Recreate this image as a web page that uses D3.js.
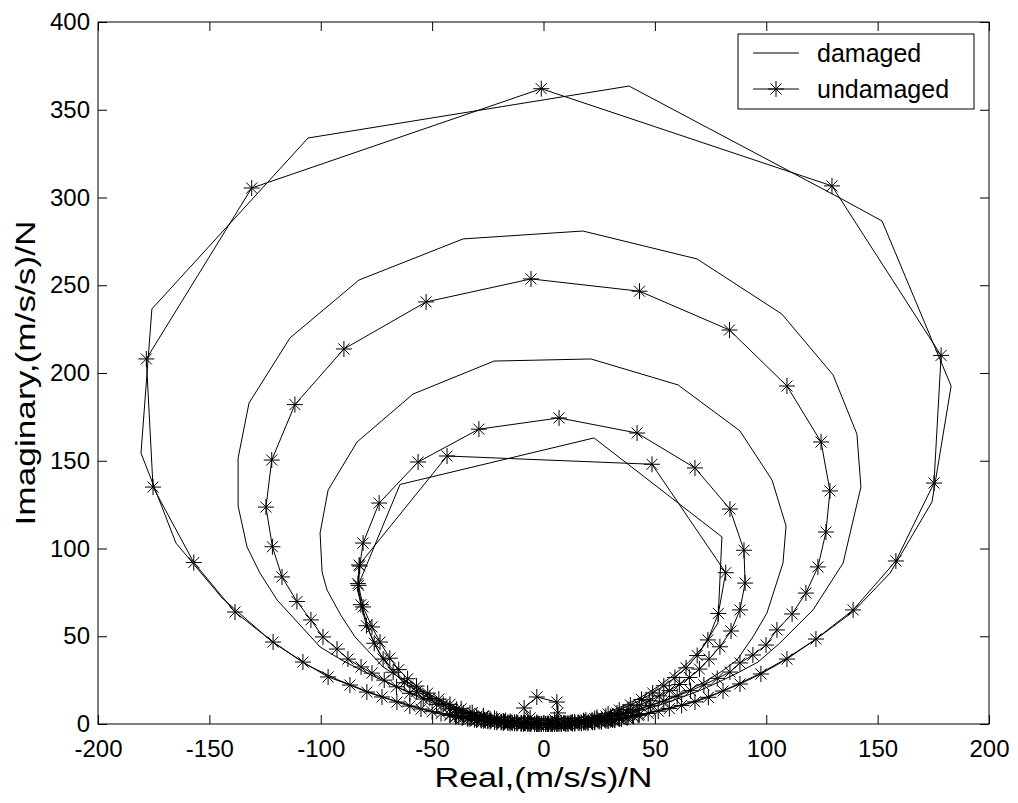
<!DOCTYPE html>
<meta charset="utf-8">
<style>
body { margin: 0; background: #fff; }
text { font-family: "Liberation Sans", Arial, sans-serif; fill: #000; }
.curve { fill: none; stroke: #000; stroke-width: 1; }
.star { fill: none; stroke: #000; stroke-width: 1; }
</style>
<svg width="1018" height="803"></svg>
<script src="https://d3js.org/d3.v7.min.js"></script>
<script>

// tick values
var xTicks = [-200, -150, -100, -50, 0, 50, 100, 150, 200];
var yTicks = [0, 50, 100, 150, 200, 250, 300, 350, 400];

// undamaged FRF, [real, imaginary], one array per mode loop
var uOriginCluster = [[1,0],[-1,0.05],[-4,0.2],[-7,0.35],[-10,0.5],[-13,0.7],[-16,0.9],[-19,1.2],[-22,1.5],[-25,1.9],[-28,2.3],[-31,2.7],[-34,3.1],
  [-31,2.5],[-28,2],[-25,1.6],[-22,1.2],[-19,0.9],[-16,0.6],[-13,0.4],[-10,0.25],[-7,0.1],[-4,0.05],[-1,0],
  [2,0],[5,0.1],[8,0.2],[11,0.35],[14,0.5],[17,0.7],[20,0.95],[23,1.25],[26,1.6],[29,2],[32,2.4],[35,2.9],
  [32,2.2],[29,1.7],[26,1.3],[23,1],[20,0.7],[17,0.45],[14,0.3],[11,0.15],[8,0.05],[5,0],[2,0],
  [-2.5,0.1],[-5.5,0.25],[-8.5,0.45],[-11.5,0.65],[-14.5,0.9],[-17.5,1.15],[-20.5,1.5],[-23.5,1.9],[-26.5,2.4],
  [-29.5,2.9],[-32.5,3.4],[-36,4],[-39,4.6],[-42,5.3],[-39.5,4.2],[-36.5,3.5],[-33,2.9],[-30,2.3],[-27,1.8],
  [-24,1.4],[-21,1],[-18,0.7],[-15,0.45],[-12,0.25],[-9,0.1],[-6,0.05],[-3,0],
  [3.5,0.1],[6.5,0.25],[9.5,0.45],[12.5,0.65],[15.5,0.9],[18.5,1.15],[21.5,1.5],[24.5,1.9],[27.5,2.4],
  [30.5,2.9],[33.5,3.4],[37,4],[40,4.6],[43,5.3],[40.5,4.2],[37.5,3.5],[34,2.9],[31,2.3],[28,1.8],
  [25,1.4],[22,1],[19,0.7],[16,0.45],[13,0.25],[10,0.1],[7,0.05],[4,0]];
var uLoopE = [[0,0.2],[-3,1],[-6,3.5],[-8.7,9.1],[-3,15.4],[6,12.5],[6.5,6.3],[5,2.5],[2,0.4]];
var uLoopD = [[-3,0.1],[-9,0.6],[-15,1.5],[-21,2.7],[-27,4.2],[-33,6.1],[-39,8.4],[-45,11.2],[-51,14.6],[-57,18.6],
  [-62.5,23.5],[-67.5,29.5],[-72,37],[-76,46],[-79.5,56],[-82,68],[-83.3,80],[-82.8,90.6],[-43.3,152.7],[48.7,148],
  [81.8,86.2],[78.5,63],[73.8,47.9],[69,39],[64,32],[59,26.5],[54,21.8],[49,17.7],[44,14],[39,10.8],[34,8],
  [29,5.7],[24,3.8],[19,2.3],[14,1.2],[9,0.5],[4,0.1]];
var uLoopC = [[-2,0.1],[-7,0.5],[-12,1.1],[-17,2],[-22,3.2],[-27,4.7],[-32,6.5],[-37,8.7],[-42,11.2],[-47,14.2],
  [-52,17.6],[-57,21.6],[-61,25.8],[-65,31],[-69,37.5],[-73.4,46.7],[-77,55.3],[-81,66.7],[-83,79],[-82.5,90],
  [-81,103.1],[-73.8,125.9],[-56.3,149.3],[-29,168],[7,174.4],[42,165.8],[68,145.9],[83.7,122.5],[90,99],
  [90.5,80.3],[88.2,65],[84.2,53],[79.2,44],[74.3,37],[70,31.3],[65.5,26.5],[61,22.5],[56.5,19],[52,16],
  [47.5,13.2],[43,10.7],[38,8.3],[33,6.3],[28,4.6],[23,3.1],[18,1.9],[13,1],[8,0.4],[3,0.1]];
var uLoopB = [[-3,0.1],[-8,0.4],[-13,0.9],[-18,1.7],[-24,2.9],[-30,4.4],[-36,6.3],[-42,8.6],[-48,11.2],[-54,14.2],
  [-60,17.5],[-66,21.2],[-71.5,25],[-77,29],[-81.9,32.5],[-87.8,37],[-92.7,42.7],[-99,49.6],[-104.4,59.3],
  [-110.7,69.8],[-117.4,83.8],[-121.7,101],[-124.6,123.6],[-122,150.4],[-111.6,182],[-89.6,213.7],[-52.7,240.5],
  [-5.6,253.6],[43.1,246.6],[83.5,224.5],[109.3,192.6],[124.6,160.7],[128.6,132.8],[126.8,109.4],[123.2,89.5],
  [117.8,74.6],[111.6,62.7],[104.8,53.6],[99.9,45],[94,39.3],[88.2,34.8],[83.7,29.6],[78,26],[72,22.3],[66,19],
  [60,15.8],[54,13],[48,10.4],[42,8.1],[36,6.1],[30,4.3],[24,2.8],[18,1.6],[12,0.8],[6,0.25],[1,0]];
var uLoopA = [[-2,0],[-6,0.1],[-10,0.3],[-14,0.55],[-18,0.9],[-22,1.35],[-26,1.9],[-30,2.5],[-34,3.2],[-38,4],
  [-42,4.9],[-46,5.9],[-50,7],[-55,8.5],[-60,10.2],[-65.8,12.5],[-72.5,15.4],[-79.3,18.2],[-86.9,22.2],
  [-96.7,26.8],[-108,35.3],[-121.4,46.7],[-138.5,63.8],[-157,92],[-175.3,135],[-178.3,208],[-131,305.4],
  [-1,362],[129.5,306.6],[178.5,210],[175.3,137.3],[158.2,92.9],[139,65],[122.3,48.4],[109.3,37],[97.6,28.5],
  [88.2,22.8],[80.6,18.8],[74,15.2],[68,12.6],[62,10.6],[56.5,8.8],[51.5,7.3],[47,6],[42.5,4.9],[38,3.9],
  [34,3.1],[30,2.4],[26,1.8],[22,1.3],[18,0.9],[14,0.55],[10,0.3],[6,0.1],[2,0]];

// damaged FRF
var dLoopD = [[-3,0.2],[-10,0.8],[-17,2],[-24,3.6],[-31,5.8],[-38,8.6],[-45,12],[-52,16.2],[-58,20.8],[-64,26.5],
  [-69,33],[-74,41],[-78,52],[-82.4,70.7],[-83.7,77.5],[-64.4,136.5],[22.7,163],[80.1,106.6],[78.3,57.5],
  [71.6,44],[65,35],[58,27.5],[51,21],[44,15.5],[37,11],[30,7.2],[23,4.3],[16,2.1],[9,0.7],[3,0.1]];
var dLoopC = [[-4,0.2],[-10,0.8],[-16,1.8],[-22,3.2],[-28,5],[-34,7.3],[-40,10],[-46,13.3],[-52,17.2],[-58,21.5],
  [-64,26],[-72,32.5],[-84.6,49.6],[-91,62],[-97.2,76.4],[-99.4,86.6],[-100.3,108.8],[-96.7,133.3],[-83.7,160.7],
  [-58.6,188],[-22.2,206.8],[21.3,208],[60.4,193.2],[88.2,167],[102.6,139],[108.9,112.8],[107.5,91.7],
  [100.3,63.2],[94,49.6],[86.9,36.5],[80,30],[73,24.5],[66,19.8],[59,15.8],[52,12.4],[45,9.5],[38,7],
  [31,4.9],[24,3.1],[17,1.7],[10,0.7],[4,0.15]];
var dLoopB = [[-4,0.15],[-10,0.7],[-16,1.6],[-22,2.9],[-28,4.5],[-34,6.4],[-40,8.6],[-46,11.2],[-53,14.5],[-61,18.5],
  [-70,23.5],[-80,29.5],[-90,36],[-100.3,43.9],[-119.6,70.7],[-127.3,86],[-133.1,100.9],[-137.1,124.2],
  [-137.1,151.6],[-132.2,182.9],[-113.8,220],[-82.8,253],[-36.1,276.4],[17.7,280.9],[68.9,265],[107,233.6],
  [130,198.9],[140.7,165.2],[142.5,135],[134.5,91.7],[121,65],[106,46],[96.3,35.3],[87,29],[78,23.5],[70,19],
  [62,15.2],[55,12],[48,9.3],[41,7],[35,5.2],[29,3.6],[23,2.3],[17,1.3],[11,0.6],[5,0.15]];
var dLoopA = [[-2,0.1],[-8,0.4],[-14,0.7],[-20,1.2],[-26,2],[-32,3],[-38,4.2],[-44,5.6],[-50,7.2],[-56,9.2],
  [-62,11.5],[-70,14.5],[-80,19],[-92,25],[-106,33.5],[-122,47],[-144.3,71.8],[-165,103.1],[-180.7,154.4],
  [-175.8,236.5],[-105.7,333.9],[38.4,363.5],[133.1,299.7],[152,286.6],[183,192.6],[174.4,126.5],[155.6,86],
  [139,64],[122,48],[108,36.5],[96,28],[86,22],[78,17.5],[70,14],[63,11.2],[56,9],[50,7.2],[44,5.6],[38,4.2],
  [32,3],[26,2],[20,1.2],[14,0.7],[8,0.3],[2,0.05]];

var legendLabels = ["damaged", "undamaged"];

var undamaged = [].concat(uOriginCluster, uLoopE, uLoopD, uLoopC, uLoopB, uLoopA);
var damaged = [].concat(dLoopD, dLoopC, dLoopB, dLoopA);

var svg = d3.select("svg"),
    mLeft = 98, mRight = 989, mTop = 22, mBottom = 724;

var x = d3.scaleLinear().domain([-200, 200]).range([mLeft, mRight]);
var y = d3.scaleLinear().domain([0, 400]).range([mBottom, mTop]);

svg.append("rect").attr("width", 1018).attr("height", 803).attr("fill", "#fff");

// axes, MATLAB style: ticks inside on all four sides
function styleAxis(g) {
  g.select(".domain").remove();
  g.selectAll("line").attr("stroke", "#000");
  g.attr("font-size", 24).attr("font-family", null);
}

var fmt = d => String(d);

svg.append("g").attr("transform", "translate(0," + mBottom + ")")
    .call(d3.axisBottom(x).tickValues(xTicks).tickFormat(fmt).tickSizeInner(-9).tickSizeOuter(0).tickPadding(16))
    .call(styleAxis);
svg.append("g").attr("transform", "translate(0," + mTop + ")")
    .call(d3.axisTop(x).tickValues(xTicks).tickSizeInner(-9).tickSizeOuter(0).tickFormat(""))
    .call(styleAxis);
svg.append("g").attr("transform", "translate(" + mLeft + ",0)")
    .call(d3.axisLeft(y).tickValues(yTicks).tickFormat(fmt).tickSizeInner(-9).tickSizeOuter(0).tickPadding(8))
    .call(styleAxis);
svg.append("g").attr("transform", "translate(" + mRight + ",0)")
    .call(d3.axisRight(y).tickValues(yTicks).tickSizeInner(-9).tickSizeOuter(0).tickFormat(""))
    .call(styleAxis);

svg.append("rect")
    .attr("x", mLeft).attr("y", mTop)
    .attr("width", mRight - mLeft).attr("height", mBottom - mTop)
    .attr("fill", "none").attr("stroke", "#000");

var line = d3.line().x(d => x(d[0])).y(d => y(d[1]));

svg.append("path").datum(damaged).attr("class", "curve").attr("d", line);
svg.append("path").datum(undamaged).attr("class", "curve").attr("d", line);

function starPath(cx, cy) {
  var a = 8, b = 5.5;
  return "M" + (cx - a) + "," + cy + "h" + (2 * a) +
         "M" + cx + "," + (cy - a) + "v" + (2 * a) +
         "M" + (cx - b) + "," + (cy - b) + "l" + (2 * b) + "," + (2 * b) +
         "M" + (cx - b) + "," + (cy + b) + "l" + (2 * b) + "," + (-2 * b);
}

svg.append("g").selectAll("path")
  .data(undamaged)
  .join("path")
    .attr("class", "star")
    .attr("d", d => starPath(x(d[0]), y(d[1])));

// axis titles (the reference renders them wide)
svg.append("text")
    .attr("x", (mLeft + mRight) / 2).attr("y", 787)
    .attr("text-anchor", "middle").attr("font-size", 27)
    .attr("textLength", 218).attr("lengthAdjust", "spacingAndGlyphs")
    .text("Real,(m/s/s)/N");
svg.append("text")
    .attr("transform", "translate(35," + (mTop + mBottom) / 2 + ") rotate(-90)")
    .attr("text-anchor", "middle").attr("font-size", 27)
    .attr("textLength", 305).attr("lengthAdjust", "spacingAndGlyphs")
    .text("Imaginary,(m/s/s)/N");

// legend
var lg = svg.append("g");
lg.append("rect").attr("x", 738).attr("y", 34).attr("width", 236).attr("height", 75)
    .attr("fill", "#fff").attr("stroke", "#000");
legendLabels.forEach(function(name, i) {
  var ly = 53 + i * 36;
  lg.append("line").attr("x1", 753).attr("x2", 799).attr("y1", ly).attr("y2", ly)
      .attr("stroke", "#000");
  if (name === "undamaged") {
    lg.append("path").attr("class", "star").attr("d", starPath(776, ly));
  }
  lg.append("text").attr("x", 817).attr("y", ly).attr("dy", "0.35em")
      .attr("font-size", 25).text(name);
});

</script>
